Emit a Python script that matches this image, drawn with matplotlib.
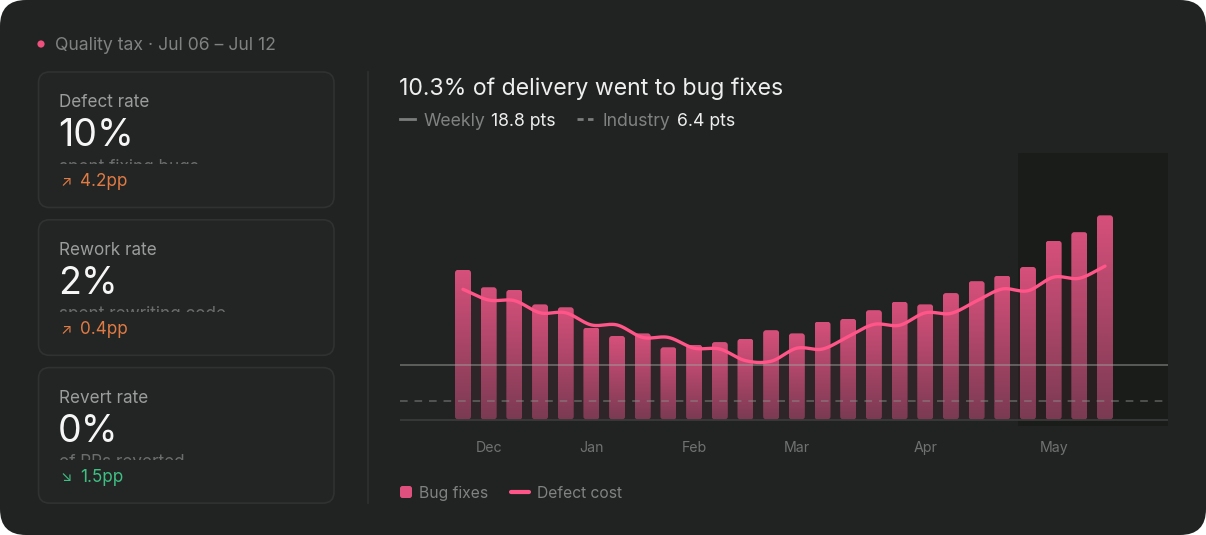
import numpy as np
import matplotlib
matplotlib.use("Agg")
import matplotlib.pyplot as plt
from matplotlib.patches import FancyBboxPatch, Rectangle, Circle
from matplotlib.colors import LinearSegmentedColormap

plt.rcParams["font.family"] = ["Inter", "DejaVu Sans"]

# weekly values (pts)
bug_fixes = [51.6, 45.6, 44.7, 39.7, 38.7, 31.7, 28.8, 29.7, 24.9, 25.8, 26.7, 27.8, 30.8,
             29.7, 33.7, 34.7, 37.7, 40.6, 39.7, 43.6, 47.7, 49.6, 52.6, 61.6, 64.6, 70.4]
defect_cost = [44.9, 41.2, 41.0, 36.8, 36.8, 32.6, 32.6, 28.3, 28.3, 24.6, 24.3, 20.3, 20.1,
               24.6, 24.3, 28.6, 32.8, 32.5, 36.8, 36.6, 40.9, 45.0, 44.4, 49.1, 48.7, 52.9]
weekly_avg = 18.8
industry_avg = 6.4
month_labels = ["Dec", "Jan", "Feb", "Mar", "Apr", "May"]
month_idx = [1, 5, 9, 13, 18, 23]
highlight_from = 22

card_titles = ["Defect rate", "Rework rate", "Revert rate"]
card_values = ["10%", "2%", "0%"]
card_notes = ["spent fixing bugs", "spent rewriting code", "of PRs reverted"]
card_arrows = ["↗", "↗", "↘"]
card_deltas = ["4.2pp", "0.4pp", "1.5pp"]
card_colors = ["#e07b45", "#e07b45", "#3fbf84"]

W, H = 1206, 535
BG = "#202321"
CARD = "#222523"
PINK = "#ff5589"


def catmull_rom(x, y, n=24):
    # smooth curve through the points (cardinal spline, tension 0)
    x = np.asarray(x, float)
    y = np.asarray(y, float)
    m = np.empty_like(y)
    m[1:-1] = (y[2:] - y[:-2]) / (x[2:] - x[:-2])
    m[0] = (y[1] - y[0]) / (x[1] - x[0])
    m[-1] = (y[-1] - y[-2]) / (x[-1] - x[-2])
    xs, ys = [], []
    for k in range(len(x) - 1):
        h = x[k + 1] - x[k]
        t = np.linspace(0, 1, n, endpoint=False)
        h00 = 2 * t**3 - 3 * t**2 + 1
        h10 = t**3 - 2 * t**2 + t
        h01 = -2 * t**3 + 3 * t**2
        h11 = t**3 - t**2
        xs.append(x[k] + t * h)
        ys.append(h00 * y[k] + h10 * h * m[k] + h01 * y[k + 1] + h11 * h * m[k + 1])
    xs.append([x[-1]])
    ys.append([y[-1]])
    return np.concatenate(xs), np.concatenate(ys)


def px_axes(fig, x0, y0, x1, y1):
    return fig.add_axes([x0 / W, 1 - y1 / H, (x1 - x0) / W, (y1 - y0) / H])


fig = plt.figure(figsize=(W / 100, H / 100), dpi=100, facecolor="white")

# overlay in pixel coords
bg = fig.add_axes([0, 0, 1, 1], zorder=0)
bg.set_xlim(0, W)
bg.set_ylim(H, 0)
bg.axis("off")
bg.add_patch(FancyBboxPatch((0, 0), W, H, boxstyle="round,pad=0,rounding_size=26",
                            fc=BG, ec="none", zorder=0))

bg.add_patch(Circle((41, 44), 3.6, fc="#f0507e", ec="none"))
bg.text(55, 50, "Quality tax · Jul 06 – Jul 12", fontsize=12.7, color="#7f8280", va="baseline")

for i in range(3):
    top = 72 + i * 147.8
    bg.add_patch(FancyBboxPatch((38.5, top), 295.5, 135.5, boxstyle="round,pad=0,rounding_size=11",
                                fc=CARD, ec="#2f3230", lw=1.2, zorder=1))
    bg.text(59, top + 35, card_titles[i], fontsize=12.3, color="#9a9d9b", va="baseline", zorder=3)
    bg.text(58, top + 74.5, card_values[i], fontsize=27, color="#f6f6f6", va="baseline", zorder=3)
    # subtitle is cut off by the card layout, only its top shows
    bg.text(59, top + 99.5, card_notes[i], fontsize=12.3, color="#6a6d6b", va="baseline", zorder=2)
    bg.add_patch(Rectangle((45, top + 92), 280, 14, fc=CARD, ec="none", zorder=2.5))
    bg.text(60, top + 113.5, card_arrows[i], fontsize=10.5, color=card_colors[i], va="baseline", zorder=3)
    bg.text(80, top + 114.5, card_deltas[i], fontsize=12.3, color=card_colors[i], va="baseline", zorder=3)

bg.plot([368, 368], [72, 503], color="#2e312f", lw=1.2)

bg.text(399, 95, "10.3% of delivery went to bug fixes", fontsize=16.6, color="#eeeeee", va="baseline")
bg.plot([400, 415], [119, 119], color="#7a7d7b", lw=2)
bg.text(424, 125.5, "Weekly", fontsize=12.7, color="#7f8280", va="baseline")
bg.text(491, 125.5, f"{weekly_avg} pts", fontsize=12.7, color="#eeeeee", va="baseline")
bg.plot([577, 593], [119, 119], color="#7a7d7b", lw=2, ls=(0, (2.2, 1.6)))
bg.text(602, 125.5, "Industry", fontsize=12.7, color="#7f8280", va="baseline")
bg.text(677, 125.5, f"{industry_avg} pts", fontsize=12.7, color="#eeeeee", va="baseline")

bg.add_patch(FancyBboxPatch((400, 486), 12, 12, boxstyle="round,pad=0,rounding_size=2.5",
                            fc="#e0507e", ec="none"))
bg.text(419, 498, "Bug fixes", fontsize=11.3, color="#7f8280", va="baseline")
bg.plot([511, 529], [492, 492], color=PINK, lw=3, solid_capstyle="round")
bg.text(537, 498, "Defect cost", fontsize=11.3, color="#7f8280", va="baseline")

# chart
px_per_x = 25.68
px_per_y = 2.9
base_px = 419.5
ax = px_axes(fig, 400, 153, 1168, 425.7)
ax.set_zorder(1)
ax.patch.set_alpha(0)
ax.axis("off")
xlim = ((400 - 463) / px_per_x, (1168 - 463) / px_per_x)
ylim = (-(425.7 - base_px) / px_per_y, (base_px - 153) / px_per_y)

ax.axvspan(highlight_from - 0.4, xlim[1], color="#1a1c1a", zorder=0, lw=0)

x = np.arange(len(bug_fixes))
cx, cy = catmull_rom(x, defect_cost)
ax.fill_between(cx, cy, 0, color=PINK, alpha=0.06, lw=0, zorder=1)

cmap = LinearSegmentedColormap.from_list("bar", ["#7a3a52", "#d6507b"])
grad = np.linspace(0, 1, 256).reshape(-1, 1)
bw = 16 / px_per_x
rnd = 3 / px_per_x
for xi, v in zip(x, bug_fixes):
    p = FancyBboxPatch((xi - bw / 2, 0), bw, v, boxstyle=f"round,pad=0,rounding_size={rnd}",
                       mutation_aspect=px_per_x / px_per_y, fc="none", ec="none")
    ax.add_patch(p)
    im = ax.imshow(grad, extent=[xi - bw / 2, xi + bw / 2, 0, v], origin="lower", cmap=cmap,
                   aspect="auto", zorder=2, interpolation="bilinear")
    im.set_clip_path(p)

ax.axhline(weekly_avg, color="#a0a2a0", lw=1.1, alpha=0.6, zorder=3)
ax.axhline(industry_avg, color="#8a8c8a", lw=1.1, alpha=0.6, ls=(0, (5, 4.5)), zorder=3)
ax.axhline(0, color="#3a3d3b", lw=1.2, zorder=3)
ax.plot(cx, cy, color=PINK, lw=2.4, zorder=4, solid_capstyle="round")

for i, lab in zip(month_idx, month_labels):
    ax.text(i, -(452 - base_px) / px_per_y, lab, fontsize=10.2, color="#6f7270",
            ha="center", va="baseline", clip_on=False)

ax.set_xlim(*xlim)
ax.set_ylim(*ylim)

fig.savefig("out.png", dpi=100, facecolor="white")
